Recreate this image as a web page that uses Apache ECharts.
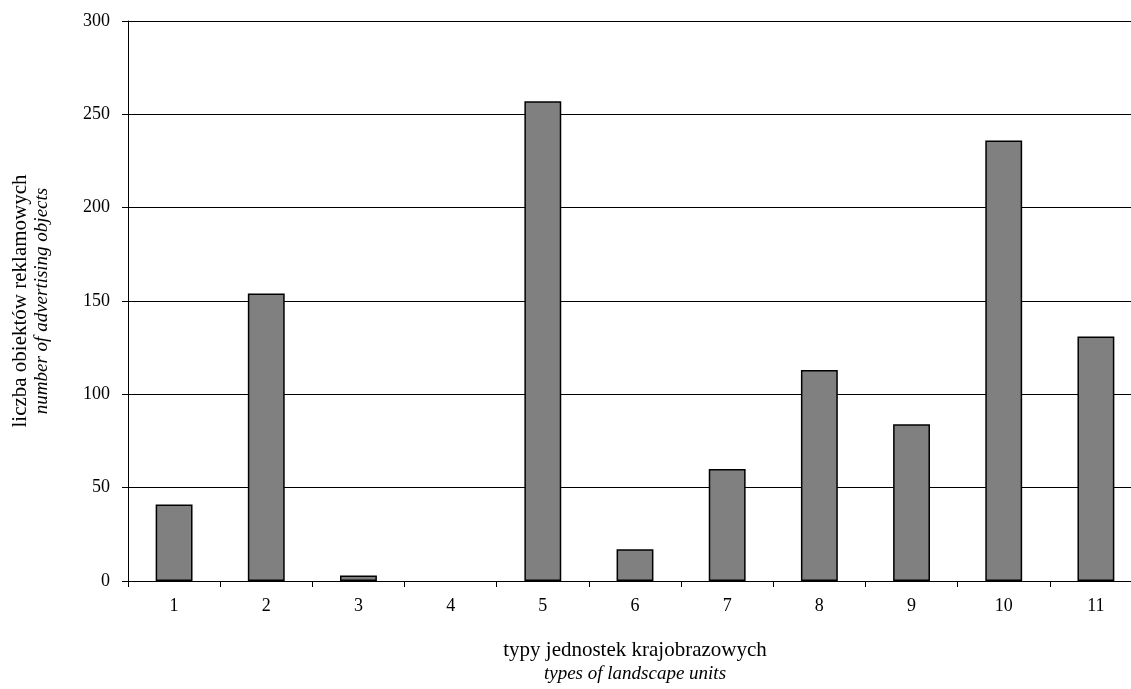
<!DOCTYPE html>
<html><head><meta charset="utf-8">
<script src="https://cdn.jsdelivr.net/npm/echarts@6/dist/echarts.min.js"></script>
<style>html,body{margin:0;padding:0;background:#fff}#c{width:1131px;height:689px}</style>
</head><body><div id="c"></div>
<script>
const categories = ['1','2','3','4','5','6','7','8','9','10','11'];
const values = [41, 154, 3, 0, 257, 17, 60, 113, 84, 236, 131];
const yTicks = [0, 50, 100, 150, 200, 250, 300];
const xTitlePl = 'typy jednostek krajobrazowych';
const xTitleEn = 'types of landscape units';
const yTitlePl = 'liczba obiektów reklamowych';
const yTitleEn = 'number of advertising objects';

const FONT = 'Liberation Serif';
const chart = echarts.init(document.getElementById('c'), null, {renderer: 'canvas'});
chart.setOption({
  animation: false,
  backgroundColor: '#fff',
  grid: {left: 128, top: 21, width: 1014, height: 560, containLabel: false, outerBoundsMode: 'none'},
  xAxis: {
    type: 'category', data: categories,
    axisLine: {lineStyle: {color: '#000', width: 1}},
    axisTick: {show: true, length: 6, lineStyle: {color: '#000'}},
    axisLabel: {color: '#000', fontFamily: FONT, fontSize: 18, margin: 16},
    name: '{a|' + xTitlePl + '}\n{b|' + xTitleEn + '}',
    nameLocation: 'middle', nameGap: 58,
    nameTextStyle: {
      rich: {
        a: {fontFamily: FONT, fontSize: 21, color: '#000', lineHeight: 23},
        b: {fontFamily: FONT, fontSize: 19, fontStyle: 'italic', color: '#000', lineHeight: 23}
      }
    }
  },
  yAxis: {
    type: 'value', min: yTicks[0], max: yTicks[yTicks.length - 1], interval: 50,
    axisLine: {show: true, lineStyle: {color: '#000', width: 1}},
    axisTick: {show: true, length: 6, inside: false, lineStyle: {color: '#000'}},
    axisLabel: {color: '#000', fontFamily: FONT, fontSize: 18, margin: 18},
    splitLine: {show: true, lineStyle: {color: '#000', width: 1}},
    name: '{a|' + yTitlePl + '}\n{b|' + yTitleEn + '}',
    nameLocation: 'middle', nameGap: 76,
    nameTextStyle: {
      rich: {
        a: {fontFamily: FONT, fontSize: 21, color: '#000', lineHeight: 21},
        b: {fontFamily: FONT, fontSize: 19, fontStyle: 'italic', color: '#000', lineHeight: 21}
      }
    }
  },
  series: [{
    type: 'bar', barWidth: '40%',
    data: values.map(v => ({value: v, itemStyle: {borderWidth: v === 0 ? 0 : 1.5, opacity: v === 0 ? 0 : 1}})),
    itemStyle: {color: '#808080', borderColor: '#000', borderWidth: 1.5}
  }]
});
</script></body></html>
